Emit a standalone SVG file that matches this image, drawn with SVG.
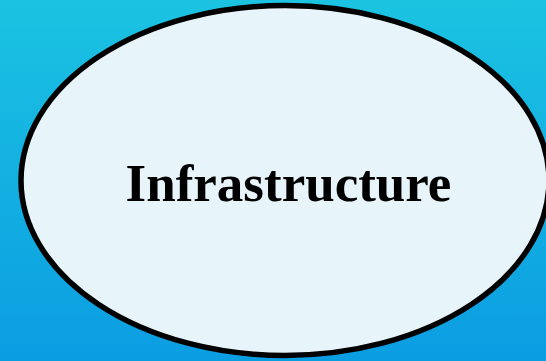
<svg xmlns="http://www.w3.org/2000/svg" width="546" height="361" viewBox="0 0 546 361">
  <defs>
    <linearGradient id="bg" x1="0" y1="0" x2="0" y2="1">
      <stop offset="0" stop-color="#1bc3e1"/>
      <stop offset="1" stop-color="#0b9de2"/>
    </linearGradient>
    <style>
      .node-shape { fill: #e7f4fa; stroke: #000; stroke-width: 5.5; }
      .node-label { font-family: "Liberation Serif", "Times New Roman", serif; font-weight: bold; font-size: 53px; fill: #000; }
    </style>
  </defs>
  <rect x="0" y="0" width="546" height="361" fill="url(#bg)"/>
  <g id="connectors"></g>
  <g id="node-infrastructure">
    <ellipse class="node-shape" cx="285" cy="180.5" rx="264" ry="175"/>
    <text class="node-label" x="288.5" y="200.5" text-anchor="middle">Infrastructure</text>
  </g>
</svg>
